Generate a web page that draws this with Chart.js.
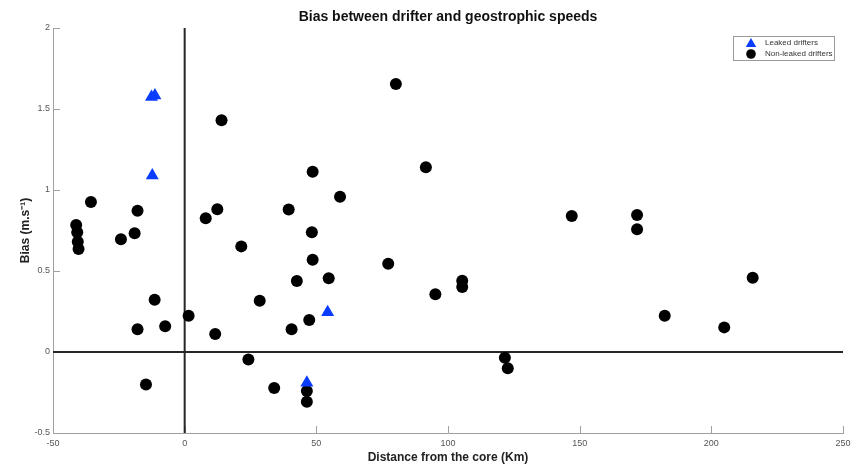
<!DOCTYPE html>
<html><head><meta charset="utf-8">
<script src="https://cdn.jsdelivr.net/npm/chart.js@4"></script>
<style>html,body{margin:0;padding:0;background:#fff;overflow:hidden}</style>
</head><body>
<canvas id="c" width="851" height="465"></canvas>
<script>
const titleText = 'Bias between drifter and geostrophic speeds';
const xAxisTitle = 'Distance from the core (Km)';
const yAxisTitle = 'Bias (m.s\u207B\u00B9)';
const xTicks = [-50, 0, 50, 100, 150, 200, 250];
const xTickLabels = ['-50', '0', '50', '100', '150', '200', '250'];
const yTicks = [-0.5, 0, 0.5, 1, 1.5, 2];
const yTickLabels = ['-0.5', '0', '0.5', '1', '1.5', '2'];
const seriesLabels = ['Leaked drifters', 'Non-leaked drifters'];

const leakedX = [-12.6, -11.3, -12.3, 54.3, 46.4];
const leakedY = [1.574, 1.583, 1.09, 0.245, -0.19];

const nonLeakedX = [14.0, 80.2, 91.6, 48.6, 59.0, -35.6, -17.9, 12.4, 8.0, 39.5,
  48.3, -41.2, -40.8, -24.2, -19.0, -40.6, -40.3, 21.5, 48.6, 77.3,
  42.6, 54.7, -11.4, 28.5, 47.3, 1.5, -17.9, -7.4, 11.6, 40.6,
  24.2, -14.7, 34.0, 46.4, 46.4, 147.0, 171.8, 171.8, 95.2, 105.4,
  105.4, 121.6, 122.7, 182.3, 204.9, 215.7];
const nonLeakedY = [1.43, 1.654, 1.14, 1.113, 0.959, 0.926, 0.872, 0.881, 0.825, 0.879,
  0.739, 0.784, 0.739, 0.696, 0.733, 0.681, 0.636, 0.652, 0.570, 0.545,
  0.438, 0.455, 0.323, 0.317, 0.198, 0.224, 0.140, 0.159, 0.111, 0.140,
  -0.047, -0.20, -0.222, -0.241, -0.307, 0.840, 0.846, 0.757, 0.356, 0.44,
  0.401, -0.035, -0.101, 0.224, 0.152, 0.459];

const BLUE = '#0a3cff';
const FONT = '"Liberation Sans", Arial, sans-serif';

const toPts = (xs, ys) => xs.map((x, i) => ({x: x, y: ys[i]}));

const decorPlugin = {
  id: 'decor',
  beforeDatasetsDraw(chart) {
    const {ctx, chartArea: a, scales: {x, y}} = chart;
    ctx.save();
    // inward ticks
    ctx.strokeStyle = '#a0a0a0';
    ctx.lineWidth = 1;
    ctx.beginPath();
    xTicks.forEach(v => {
      const px = Math.round(x.getPixelForValue(v)) + 0.5;
      ctx.moveTo(px, a.bottom); ctx.lineTo(px, a.bottom - 7);
    });
    yTicks.forEach(v => {
      const py = Math.round(y.getPixelForValue(v)) + 0.5;
      ctx.moveTo(a.left, py); ctx.lineTo(a.left + 7, py);
    });
    ctx.stroke();
    // zero lines
    ctx.strokeStyle = '#262626';
    ctx.lineWidth = 2;
    ctx.beginPath();
    const x0 = x.getPixelForValue(0), y0 = y.getPixelForValue(0);
    ctx.moveTo(x0, a.top); ctx.lineTo(x0, a.bottom);
    ctx.moveTo(a.left, y0); ctx.lineTo(a.right, y0);
    ctx.stroke();
    ctx.restore();
  },
  afterDraw(chart) {
    const {ctx, chartArea: a} = chart;
    ctx.save();
    // title
    ctx.fillStyle = '#111';
    ctx.font = 'bold 14px ' + FONT;
    ctx.textAlign = 'center';
    ctx.textBaseline = 'middle';
    ctx.fillText(titleText, (a.left + a.right) / 2, 17);
    // legend
    const bx = 733.5, by = 36.5, bw = 101, bh = 24;
    ctx.fillStyle = '#fff';
    ctx.fillRect(bx, by, bw, bh);
    ctx.strokeStyle = '#9a9a9a';
    ctx.lineWidth = 1;
    ctx.strokeRect(bx, by, bw, bh);
    const ds = chart.data.datasets;
    const rows = [42.5, 54];
    ds.forEach((d, i) => {
      ctx.fillStyle = d.backgroundColor;
      ctx.strokeStyle = d.backgroundColor;
      Chart.helpers.drawPoint(ctx, {pointStyle: d.pointStyle, radius: d.pointRadius * 0.8, borderWidth: 0}, 751, rows[i] + (d.pointStyle === 'triangle' ? 1.5 : 0));
      ctx.fillStyle = '#333';
      ctx.font = '8px ' + FONT;
      ctx.textAlign = 'left';
      ctx.textBaseline = 'middle';
      ctx.fillText(d.label, 765, rows[i]);
    });
    ctx.restore();
  }
};

new Chart(document.getElementById('c'), {
  type: 'scatter',
  data: {
    datasets: [
      {label: seriesLabels[0], data: toPts(leakedX, leakedY), pointStyle: 'triangle',
       pointRadius: 7.5, pointHoverRadius: 7.5, backgroundColor: BLUE, borderColor: BLUE, borderWidth: 0},
      {label: seriesLabels[1], data: toPts(nonLeakedX, nonLeakedY), pointStyle: 'circle',
       pointRadius: 6, pointHoverRadius: 6, backgroundColor: '#000', borderColor: '#000', borderWidth: 0}
    ]
  },
  options: {
    responsive: false,
    animation: false,
    events: [],
    layout: {padding: {left: 0, right: 8, top: 28, bottom: 0}},
    plugins: {legend: {display: false}, title: {display: false}, tooltip: {enabled: false}},
    scales: {
      x: {
        type: 'linear', min: -50, max: 250,
        afterBuildTicks: s => { s.ticks = xTicks.map(v => ({value: v})); },
        afterFit: s => { s.height = 32; s.paddingLeft = 0; s.paddingRight = 0; },
        grid: {display: false, drawTicks: false},
        border: {display: true, color: '#a0a0a0', width: 1},
        ticks: {padding: 5, color: '#555', font: {family: FONT, size: 9}, maxRotation: 0, autoSkip: false,
          callback: (v, i) => xTickLabels[xTicks.indexOf(v)]},
        title: {display: true, text: xAxisTitle, color: '#222', font: {family: FONT, size: 12, weight: 'bold'}, padding: {top: 0, bottom: 0}}
      },
      y: {
        type: 'linear', min: -0.5, max: 2,
        afterBuildTicks: s => { s.ticks = yTicks.map(v => ({value: v})); },
        afterFit: s => { s.width = 53; s.paddingTop = 0; s.paddingBottom = 0; },
        grid: {display: false, drawTicks: false},
        border: {display: true, color: '#a0a0a0', width: 1},
        ticks: {padding: 3, color: '#555', font: {family: FONT, size: 9}, autoSkip: false,
          callback: (v, i) => yTickLabels[yTicks.indexOf(v)]},
        title: {display: true, text: yAxisTitle, color: '#222', font: {family: FONT, size: 12, weight: 'bold'}, padding: {top: 18, bottom: 0}}
      }
    }
  },
  plugins: [decorPlugin]
});
</script>
</body></html>
